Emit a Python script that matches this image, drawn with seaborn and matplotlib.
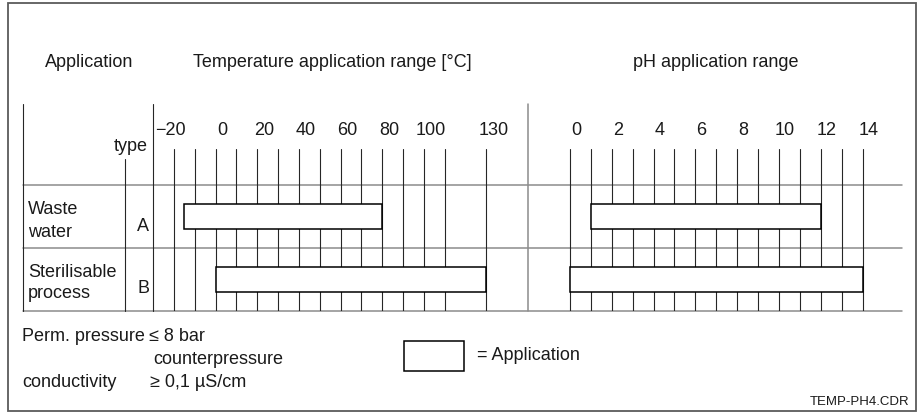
import matplotlib
matplotlib.use("Agg")
import matplotlib.pyplot as plt
import matplotlib.transforms as mtransforms
from matplotlib.patches import Rectangle
import seaborn as sns
import pandas as pd

# ---------------- data ----------------
applications = ["Waste\nwater", "Sterilisable\nprocess"]
types = ["A", "B"]
temp_min = [-15, 0]
temp_max = [80, 130]
ph_min = [1, 0]
ph_max = [12, 14]
temp_grid = [-20, -10, 0, 10, 20, 30, 40, 50, 60, 70, 80, 90, 100, 110, 130]
temp_labels = [-20, 0, 20, 40, 60, 80, 100, 130]
ph_grid = list(range(0, 15))
ph_labels = [0, 2, 4, 6, 8, 10, 12, 14]

df = pd.DataFrame({
    "type": types,
    "application": applications,
    "tmin": temp_min,
    "tspan": [b - a for a, b in zip(temp_min, temp_max)],
    "pmin": ph_min,
    "pspan": [b - a for a, b in zip(ph_min, ph_max)],
})

sns.set_theme(style="white")
plt.rcParams["font.family"] = ["Liberation Sans", "DejaVu Sans"]
FS = 13
GRID_C = "#262626"
GRAY = "#8c8c8c"
TC = "#1a1a1a"

W, H = 922, 414
fig = plt.figure(figsize=(W / 100, H / 100), dpi=100)

# canvas axes in pixel units for the table frame and texts
cv = fig.add_axes([0, 0, 1, 1])
cv.set_xlim(0, W)
cv.set_ylim(H, 0)
cv.axis("off")


def fig_rect(x0, x1, ytop, ybot):
    return [x0 / W, 1 - ybot / H, (x1 - x0) / W, (ybot - ytop) / H]


def data_axes(rect, xlim, grid, labels, minc, spanc, label_dx):
    ax = fig.add_axes(rect)
    ax.set_axisbelow(True)
    sns.barplot(data=df, y="type", x=spanc, left=df[minc], orient="y",
                color="white", edgecolor="black", linewidth=1.1,
                width=0.4, saturation=1, ax=ax, zorder=3)
    ax.set_xlim(*xlim)
    ax.set_ylim(1.5, -1.07)
    ax.set_xticks(grid)
    ax.set_yticks([])
    ax.tick_params(axis="x", length=0, labelbottom=False)
    ax.grid(axis="x", color=GRID_C, linewidth=0.8)
    ax.grid(axis="y", visible=False)
    ax.set_xlabel("")
    ax.set_ylabel("")
    for s in ax.spines.values():
        s.set_visible(False)
    ax.patch.set_alpha(0)
    for v in labels:
        dx = label_dx
        txt = str(v)
        if v < 0:
            txt = "\u2212" + str(-v)
            dx = -3
        tr = mtransforms.blended_transform_factory(ax.transData, ax.transAxes) + \
            mtransforms.ScaledTranslation(dx / 100, 0, fig.dpi_scale_trans)
        ax.text(v, 1 + 15 / 162, txt, transform=tr, ha="center", va="baseline",
                fontsize=FS, color=TC)
    return ax


ax_t = data_axes(fig_rect(153, 528, 150, 312), (-30, 150), temp_grid, temp_labels,
                 "tmin", "tspan", 7)
ax_p = data_axes(fig_rect(528, 902, 150, 312), (-2, 15.88), ph_grid, ph_labels,
                 "pmin", "pspan", 6)

# table structure
cv.add_patch(Rectangle((8, 4), 908, 408, fill=False, edgecolor="#5a5a5a", linewidth=1.3))
for y in (186, 249, 312):
    cv.plot([23, 902], [y, y], color=GRAY, linewidth=1.1, zorder=1)
cv.plot([23, 23], [105, 312], color=GRID_C, linewidth=0.8)
cv.plot([125, 125], [160, 312], color=GRID_C, linewidth=0.8)
cv.plot([153, 153], [105, 312], color=GRID_C, linewidth=0.8)
cv.plot([528, 528], [105, 312], color=GRAY, linewidth=1.1)


def t(x, y, s, ha="left", fs=FS):
    cv.text(x, y, s, ha=ha, va="baseline", fontsize=fs, color=TC)


# headers
t(89, 67, "Application", ha="center")
t(332, 67, "Temperature application range [°C]", ha="center")
t(716, 67, "pH application range", ha="center")
t(148, 151, "type", ha="right")

# row texts
row_base = [(214, 237), (277, 298)]
for app, ty, (b1, b2) in zip(applications, types, row_base):
    l1, l2 = app.split("\n")
    t(28, b1, l1)
    t(28, b2, l2)
    t(143, (b1 + b2) / 2 + 6, ty, ha="center")

# footnotes
t(22, 341, "Perm. pressure")
t(149, 341, "\u2264 8 bar")
t(153, 364, "counterpressure")
t(22, 387, "conductivity")
t(150, 387, "\u2265 0,1 \u00b5S/cm")

cv.add_patch(Rectangle((404, 342), 60, 30, facecolor="white", edgecolor="black",
                       linewidth=1.1))
t(477, 360, "= Application")
t(909, 405, "TEMP-PH4.CDR", ha="right", fs=9.5)

fig.savefig("out.png", dpi=100)
